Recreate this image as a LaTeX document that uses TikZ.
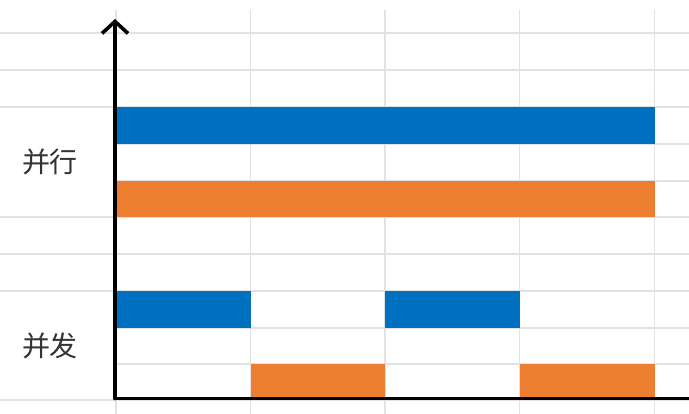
\documentclass[tikz,border=0pt]{standalone}
\usepackage{fontspec}
\usepackage{xcolor}
\usepackage{tikz}
\usetikzlibrary{arrows.meta}
\newfontfamily\cjk{Noto Sans CJK SC}
\definecolor{cBlue}{HTML}{0070C0}
\definecolor{cOrange}{HTML}{ED7D31}
\definecolor{cGrid}{HTML}{E2E2E2}
\definecolor{cText}{HTML}{333333}
\tikzset{
  gridline/.style={draw=cGrid, line width=1.4pt},
  bluebar/.style ={fill=cBlue},
  orangebar/.style={fill=cOrange},
  axisline/.style={draw=black, line width=3.6pt, line cap=round},
  axisarrow/.style={-{Straight Barb[length=12pt,width=26pt,line width=3.6pt]}, axisline},
  rowlabel/.style={font=\cjk\fontsize{28pt}{30pt}\selectfont, text=cText, inner sep=0pt},
}
\begin{document}
\begin{tikzpicture}[x=1pt, y=-1pt]
    \useasboundingbox[fill=white] (0,0) rectangle (689,414);
    % grid
    \foreach \gy in {33,70,107,217,254,291,400}
      \draw[gridline] (0,\gy) -- (689,\gy);
    \foreach \gy in {144,181,328,364}
      \draw[gridline] (115,\gy) -- (689,\gy);
    \foreach \gx in {116,250.5,385,519.5,654.5}
      \draw[gridline] (\gx,10) -- (\gx,414);
    % bars
    \fill[bluebar]   (116,107) rectangle (655,144);
    \fill[orangebar] (116,181) rectangle (655,217);
    \fill[bluebar]   (116,291) rectangle (250.5,328);
    \fill[bluebar]   (385,291) rectangle (519.5,328);
    \fill[orangebar] (250.5,364) rectangle (385,400);
    \fill[orangebar] (519.5,364) rectangle (655,400);
    % axes
    \coordinate (origin) at (115,398.5);
    \coordinate (ytop) at (115,19);
    \coordinate (xend) at (689,398.5);
    \draw[axisline] (origin) -- (xend);
    \draw[axisarrow] (origin) -- (ytop);
    % labels
    \node[rowlabel] (par) at (50,162) {并行};
    \node[rowlabel] (con) at (50,346) {并发};
\end{tikzpicture}
\end{document}
